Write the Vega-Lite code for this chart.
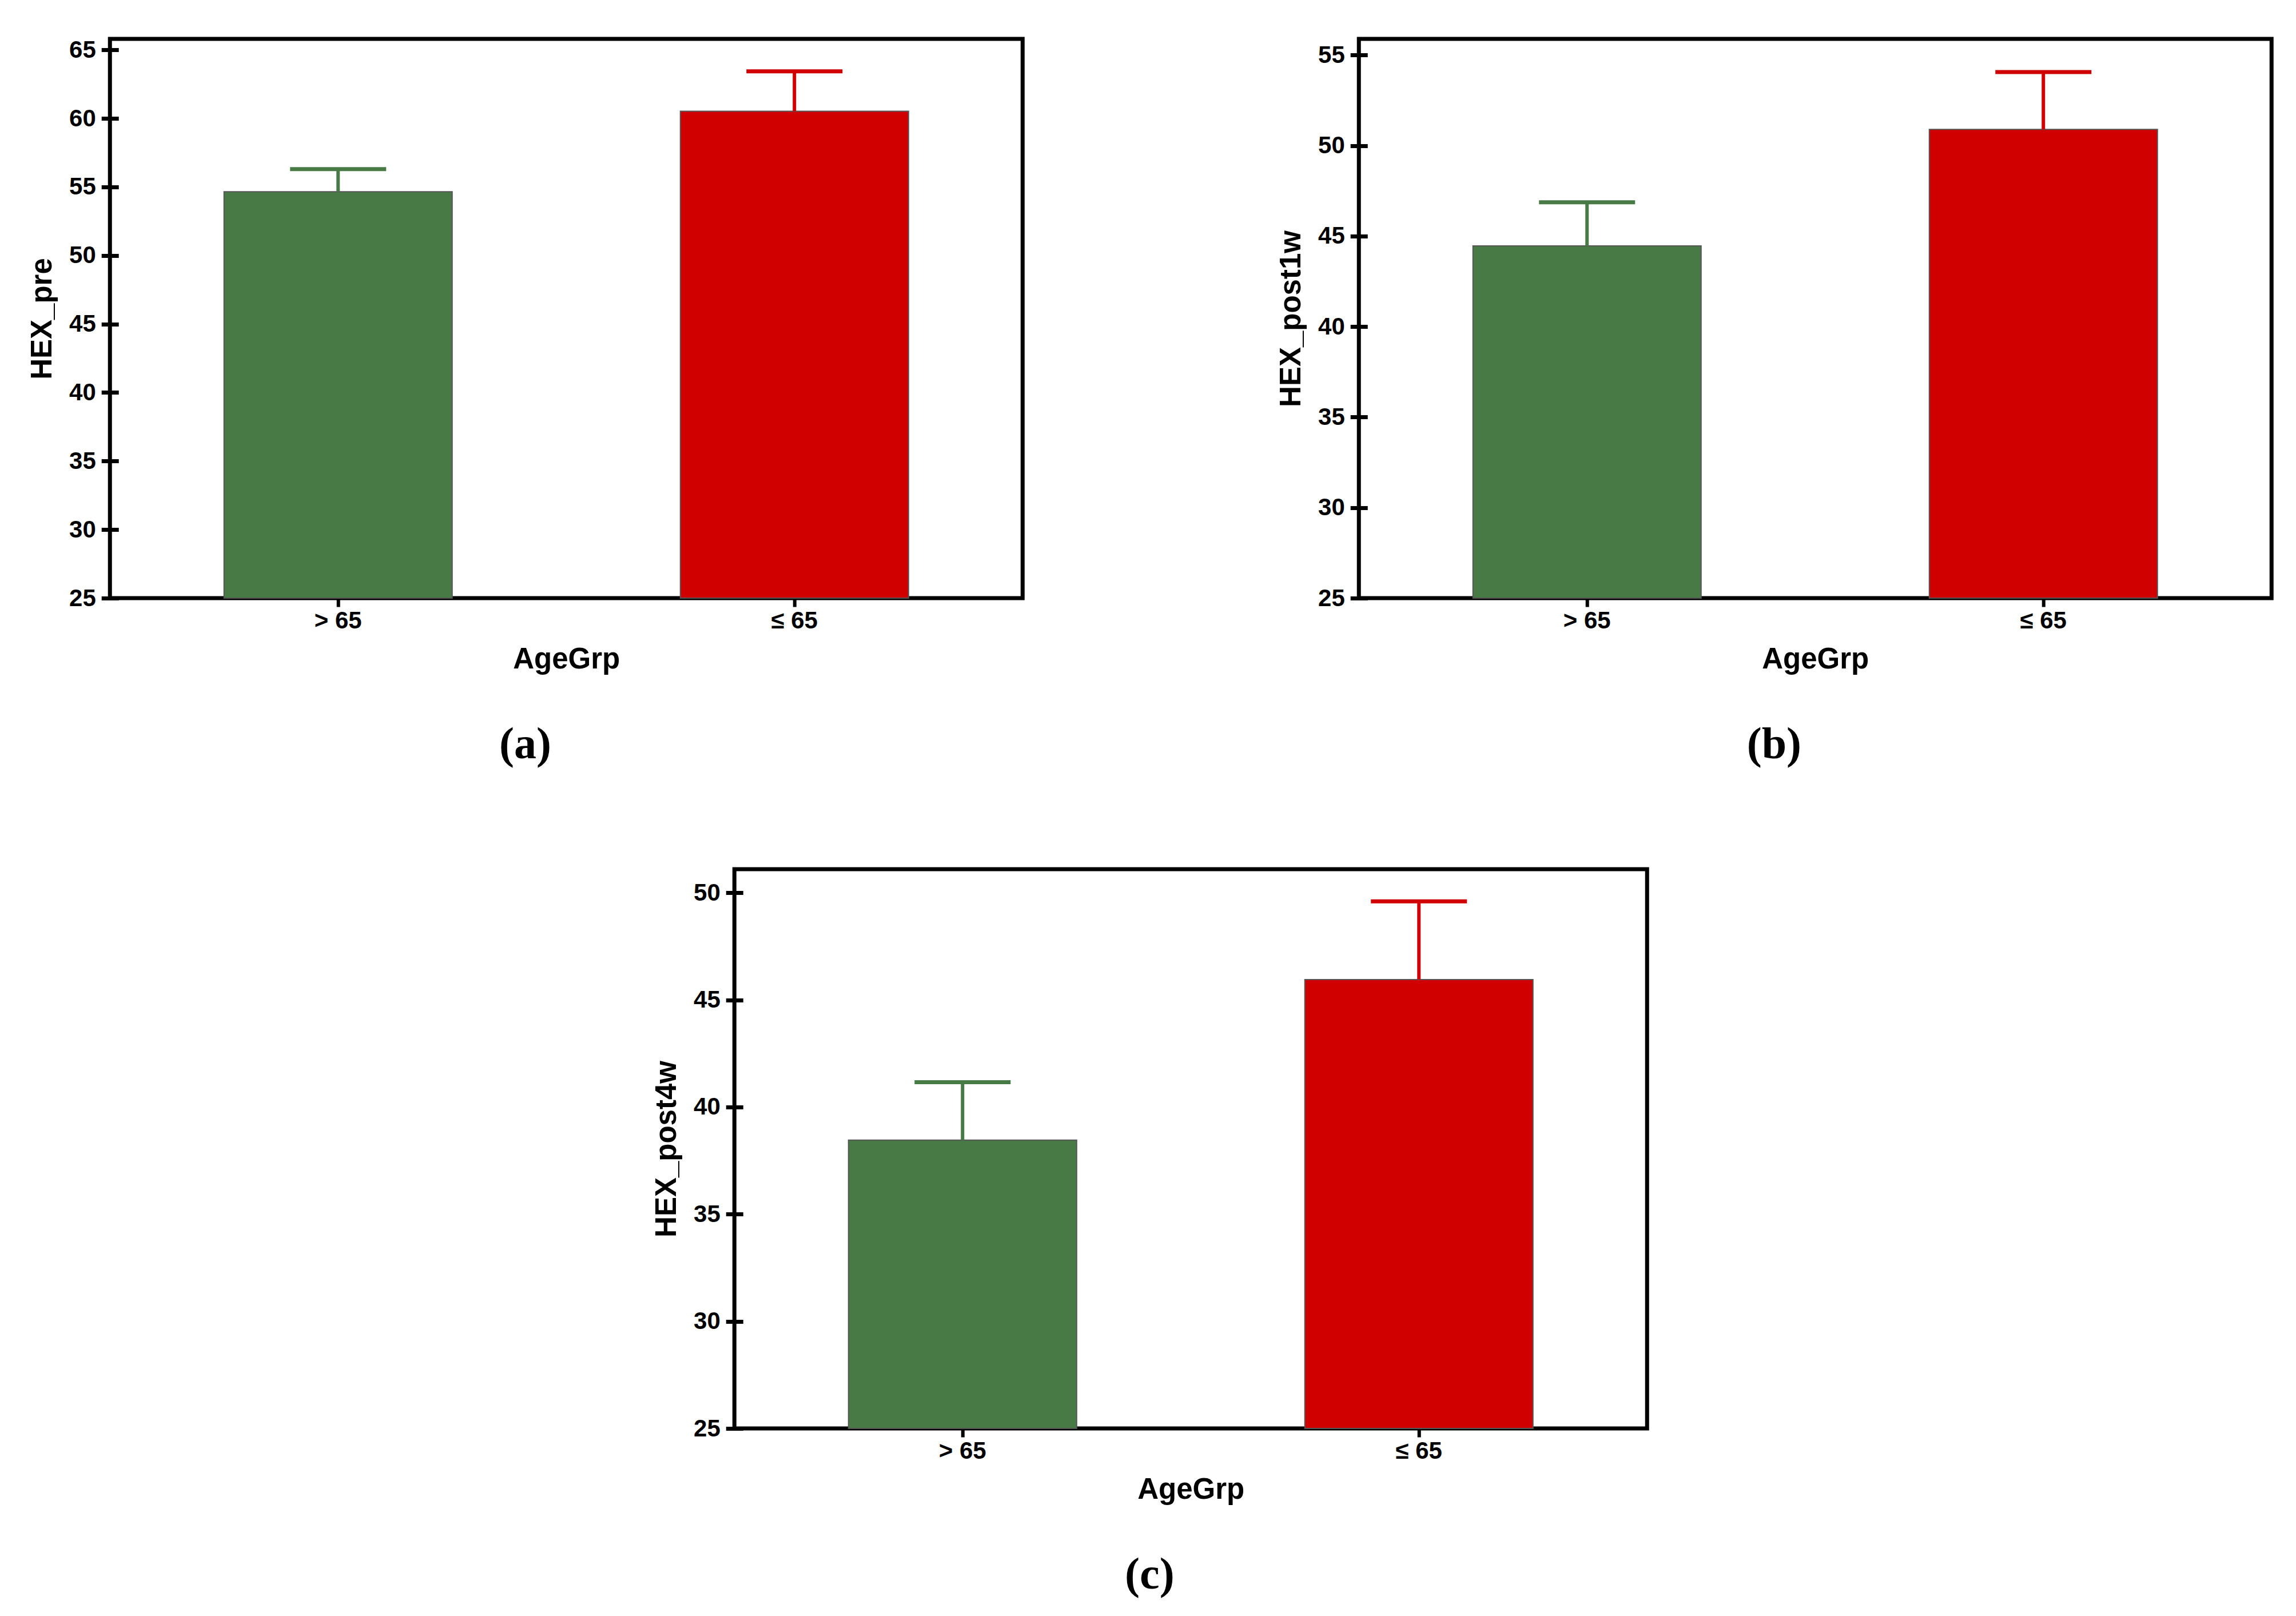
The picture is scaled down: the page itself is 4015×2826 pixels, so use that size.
{
  "$schema": "https://vega.github.io/schema/vega-lite/v6.json",
  "background": "white",
  "padding": {"left": 45, "top": 62, "right": 20, "bottom": 20},
  "datasets": {
    "a": [
      {"AgeGrp": "> 65", "mean": 54.65, "upper": 56.3},
      {"AgeGrp": "≤ 65", "mean": 60.52, "upper": 63.43}
    ],
    "b": [
      {"AgeGrp": "> 65", "mean": 44.46, "upper": 46.87},
      {"AgeGrp": "≤ 65", "mean": 50.9, "upper": 54.07}
    ],
    "c": [
      {"AgeGrp": "> 65", "mean": 38.46, "upper": 41.16},
      {"AgeGrp": "≤ 65", "mean": 45.95, "upper": 49.6}
    ]
  },
  "config": {
    "view": {"stroke": "black", "strokeWidth": 7},
    "font": "Liberation Sans",
    "axis": {
      "grid": false,
      "domain": false,
      "tickColor": "black",
      "labelColor": "black",
      "titleColor": "black",
      "labelFont": "Liberation Sans",
      "titleFont": "Liberation Sans",
      "labelFontSize": 42,
      "labelFontWeight": "bold",
      "titleFontSize": 51,
      "titleFontWeight": "bold"
    },
    "title": {"font": "Liberation Serif", "fontSize": 78, "fontWeight": "bold", "color": "black", "orient": "bottom", "offset": 86, "anchor": "middle", "frame": "bounds"}
  },
  "vconcat": [
    {
      "hconcat": [
        {
          "width": 1596, "height": 978,
          "title": "(a)",
          "data": {"name": "a"},
          "encoding": {
            "x": {"field": "AgeGrp", "type": "nominal", "sort": ["> 65", "≤ 65"],
              "scale": {"paddingInner": 0.5, "paddingOuter": 0.25},
              "axis": {"labelAngle": 0, "tickSize": 15, "tickWidth": 6, "labelPadding": 4, "titlePadding": 22},
              "title": "AgeGrp"}
          },
          "layer": [
            {"mark": {"type": "bar", "stroke": "#555555", "strokeWidth": 2},
             "encoding": {
               "y": {"field": "mean", "type": "quantitative", "scale": {"domain": [25, 65.8], "nice": false, "zero": false},
                 "axis": {"values": [25, 30, 35, 40, 45, 50, 55, 60, 65], "tickSize": 30, "offset": -15, "tickWidth": 7, "labelPadding": 10, "titlePadding": 20},
                 "title": "HEX_pre"},
               "y2": {"datum": 25},
               "color": {"field": "AgeGrp", "type": "nominal", "scale": {"domain": ["> 65", "≤ 65"], "range": ["#477A45", "#D00000"]}, "legend": null}
             }},
            {"mark": {"type": "rule", "strokeWidth": 6},
             "encoding": {
               "y": {"field": "mean", "type": "quantitative"},
               "y2": {"field": "upper"},
               "color": {"field": "AgeGrp", "type": "nominal", "legend": null}
             }},
            {"mark": {"type": "tick", "orient": "horizontal", "size": 168, "thickness": 7, "opacity": 1},
             "encoding": {
               "y": {"field": "upper", "type": "quantitative"},
               "color": {"field": "AgeGrp", "type": "nominal", "legend": null}
             }}
          ]
        },
        {
          "width": 1596, "height": 978,
          "title": "(b)",
          "data": {"name": "b"},
          "encoding": {
            "x": {"field": "AgeGrp", "type": "nominal", "sort": ["> 65", "≤ 65"],
              "scale": {"paddingInner": 0.5, "paddingOuter": 0.25},
              "axis": {"labelAngle": 0, "tickSize": 15, "tickWidth": 6, "labelPadding": 4, "titlePadding": 22},
              "title": "AgeGrp"}
          },
          "layer": [
            {"mark": {"type": "bar", "stroke": "#555555", "strokeWidth": 2},
             "encoding": {
               "y": {"field": "mean", "type": "quantitative", "scale": {"domain": [25, 55.9], "nice": false, "zero": false},
                 "axis": {"values": [25, 30, 35, 40, 45, 50, 55], "tickSize": 30, "offset": -15, "tickWidth": 7, "labelPadding": 10, "titlePadding": 20},
                 "title": "HEX_post1w"},
               "y2": {"datum": 25},
               "color": {"field": "AgeGrp", "type": "nominal", "scale": {"domain": ["> 65", "≤ 65"], "range": ["#477A45", "#D00000"]}, "legend": null}
             }},
            {"mark": {"type": "rule", "strokeWidth": 6},
             "encoding": {
               "y": {"field": "mean", "type": "quantitative"},
               "y2": {"field": "upper"},
               "color": {"field": "AgeGrp", "type": "nominal", "legend": null}
             }},
            {"mark": {"type": "tick", "orient": "horizontal", "size": 168, "thickness": 7, "opacity": 1},
             "encoding": {
               "y": {"field": "upper", "type": "quantitative"},
               "color": {"field": "AgeGrp", "type": "nominal", "legend": null}
             }}
          ]
        }
      ],
      "spacing": 436
    },
    {
      "width": 1596, "height": 978,
      "title": "(c)",
      "data": {"name": "c"},
      "encoding": {
        "x": {"field": "AgeGrp", "type": "nominal", "sort": ["> 65", "≤ 65"],
          "scale": {"paddingInner": 0.5, "paddingOuter": 0.25},
          "axis": {"labelAngle": 0, "tickSize": 15, "tickWidth": 6, "labelPadding": 4, "titlePadding": 22},
          "title": "AgeGrp"}
      },
      "layer": [
        {"mark": {"type": "bar", "stroke": "#555555", "strokeWidth": 2},
         "encoding": {
           "y": {"field": "mean", "type": "quantitative", "scale": {"domain": [25, 51.1], "nice": false, "zero": false},
             "axis": {"values": [25, 30, 35, 40, 45, 50], "tickSize": 30, "offset": -15, "tickWidth": 7, "labelPadding": 10, "titlePadding": 20},
             "title": "HEX_post4w"},
           "y2": {"datum": 25},
           "color": {"field": "AgeGrp", "type": "nominal", "scale": {"domain": ["> 65", "≤ 65"], "range": ["#477A45", "#D00000"]}, "legend": null}
         }},
        {"mark": {"type": "rule", "strokeWidth": 6},
         "encoding": {
           "y": {"field": "mean", "type": "quantitative"},
           "y2": {"field": "upper"},
           "color": {"field": "AgeGrp", "type": "nominal", "legend": null}
         }},
        {"mark": {"type": "tick", "orient": "horizontal", "size": 168, "thickness": 7, "opacity": 1},
         "encoding": {
           "y": {"field": "upper", "type": "quantitative"},
           "color": {"field": "AgeGrp", "type": "nominal", "legend": null}
         }}
      ]
    }
  ],
  "spacing": 170,
  "center": true
}
